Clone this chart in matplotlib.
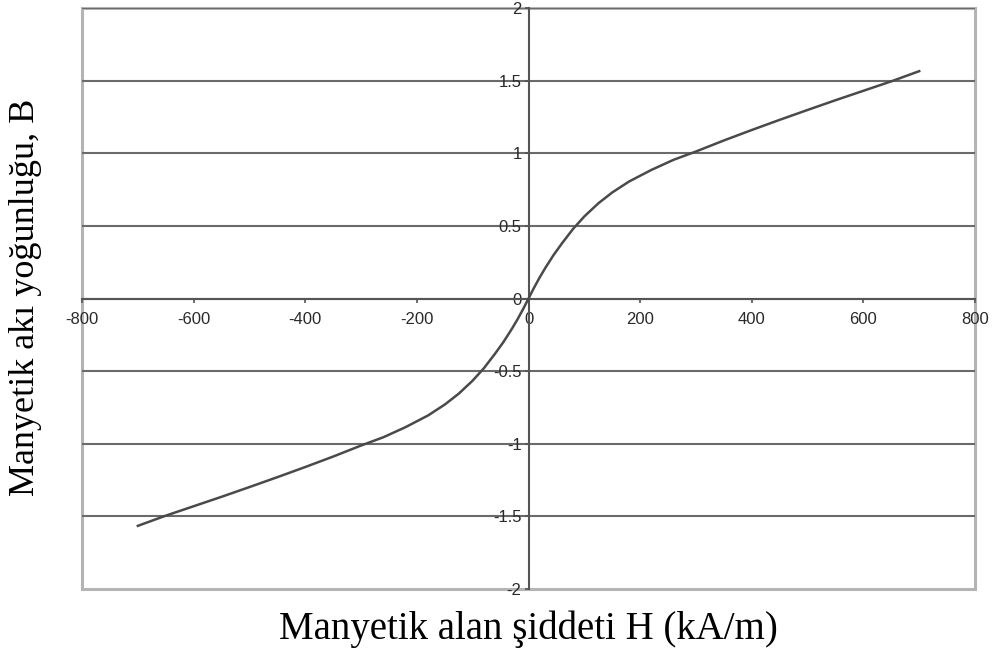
import matplotlib.pyplot as plt
from matplotlib.ticker import FixedLocator

# curve (kA/m, T), positive half; the loop is odd-symmetric
H_pos = [0, 10, 20, 30, 45, 60, 80, 100, 125, 150, 180, 220, 260, 300,
         350, 400, 450, 500, 550, 600, 650, 700]
B_pos = [0.0, 0.075, 0.145, 0.21, 0.30, 0.38, 0.48, 0.565, 0.655, 0.73, 0.805, 0.885, 0.955, 1.012,
         1.088, 1.16, 1.23, 1.298, 1.365, 1.43, 1.495, 1.565]
H = [-h for h in H_pos[:0:-1]] + H_pos
B = [-b for b in B_pos[:0:-1]] + B_pos

x_ticks = [-800, -600, -400, -200, 0, 200, 400, 600, 800]
y_ticks = [-2, -1.5, -1, -0.5, 0, 0.5, 1, 1.5, 2]
y_labels = ['-2', '-1.5', '-1', '-0.5', '0', '0.5', '1', '1.5', '2']

fig = plt.figure(figsize=(9.99, 6.49), dpi=100)
ax = fig.add_axes([0.0821, 0.0924, 0.8939, 0.8953])

ax.plot(H, B, color='#4a4a4a', linewidth=1.8, solid_joinstyle='round', zorder=3)

ax.set_xlim(-800, 800)
ax.set_ylim(-2, 2)

# axes crossing at zero
ax.spines['left'].set_position('zero')
ax.spines['bottom'].set_position('zero')
ax.spines['top'].set_visible(False)
ax.spines['right'].set_visible(False)
for s in ['left', 'bottom']:
    ax.spines[s].set_color('#555555')
    ax.spines[s].set_linewidth(1.5)
    ax.spines[s].set_zorder(2.5)

# outer frame
ax.patch.set_edgecolor('#b4b4b4')
ax.patch.set_linewidth(2.2)

ax.xaxis.set_major_locator(FixedLocator(x_ticks))
ax.yaxis.set_major_locator(FixedLocator(y_ticks))
ax.set_xticklabels([str(v) for v in x_ticks])
ax.set_yticklabels(y_labels)

ax.tick_params(axis='both', direction='out', length=3, width=1.2, color='#555555',
               labelsize=12, labelcolor='#2a2a2a')
ax.tick_params(axis='x', pad=7)
ax.tick_params(axis='y', pad=2)
for lab in ax.get_xticklabels() + ax.get_yticklabels():
    lab.set_family('Liberation Sans')

ax.yaxis.grid(True, color='#6a6a6a', linewidth=1.5)
ax.yaxis.get_gridlines()[0].set_visible(False)
ax.set_axisbelow(True)

fig.text(528 / 999, 1 - 629 / 649, 'Manyetik alan şiddeti H (kA/m)',
         family='Liberation Serif', fontsize=28, ha='center', va='center')
fig.text(26 / 999, 1 - 297 / 649, 'Manyetik akı yoğunluğu, B',
         family='Liberation Serif', fontsize=26, ha='center', va='center', rotation=90)

plt.savefig('out.png', dpi=100, facecolor='white')
